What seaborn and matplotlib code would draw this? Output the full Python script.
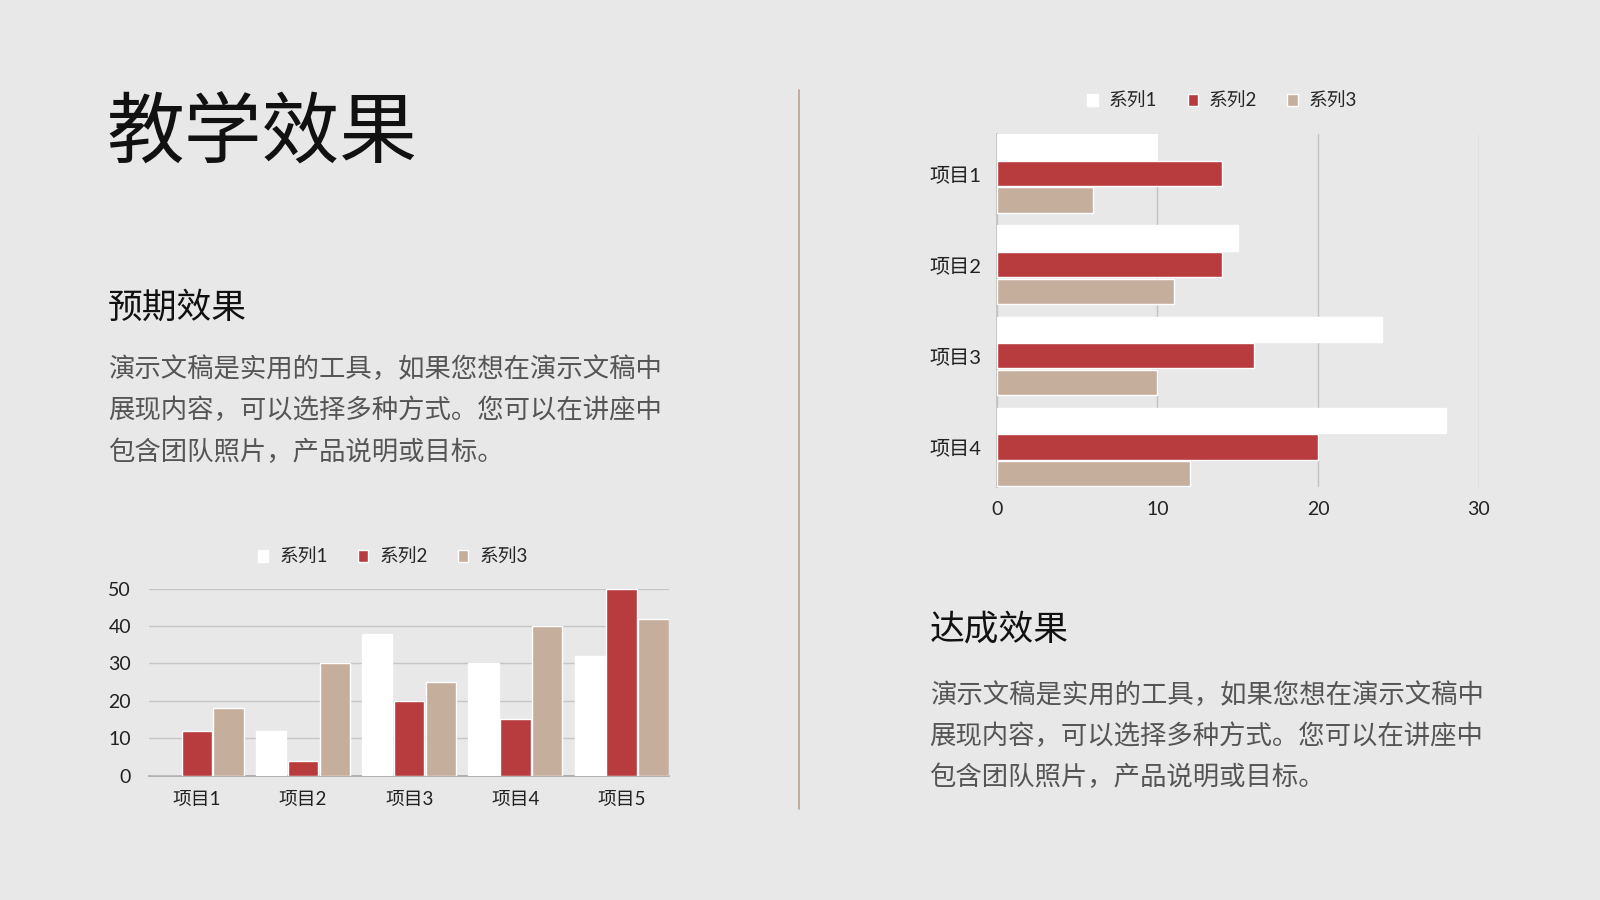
import numpy as np
import pandas as pd
import matplotlib
matplotlib.use("Agg")
import matplotlib.pyplot as plt
from matplotlib.lines import Line2D
import seaborn as sns

# -------------------------------
# DATA
# -------------------------------
series = ["系列1", "系列2", "系列3"]

col_items = ["项目1", "项目2", "项目3", "项目4", "项目5"]
col_s1 = [0, 12, 38, 30, 32]
col_s2 = [12, 4, 20, 15, 50]
col_s3 = [18, 30, 25, 40, 42]

bar_items = ["项目1", "项目2", "项目3", "项目4"]
bar_s1 = [10, 15, 24, 28]
bar_s2 = [14, 14, 16, 20]
bar_s3 = [6, 11, 10, 12]

title = "教学效果"
head_left = "预期效果"
head_right = "达成效果"
body_lines = [
    "演示文稿是实用的工具，如果您想在演示文稿中",
    "展现内容，可以选择多种方式。您可以在讲座中",
    "包含团队照片，产品说明或目标。",
]

BG = "#e8e8e8"
palette = ["#ffffff", "#b83c3e", "#c5ae9c"]
W, H = 1568, 882  # reference size, used for placing things


def fx(px):
    return px / W


def fy(py):
    return 1 - py / H


def long_form(items, s1, s2, s3):
    df = pd.DataFrame({"item": items, series[0]: s1, series[1]: s2, series[2]: s3})
    return df.melt(id_vars="item", var_name="series", value_name="value")


sns.set_theme(style="white")
plt.rcParams["font.family"] = ["Lato", "Noto Sans CJK SC", "DejaVu Sans"]
plt.rcParams["axes.unicode_minus"] = False

fig = plt.figure(figsize=(16, 9), dpi=100)
fig.patch.set_facecolor(BG)

# -------------------------------
# TEXTS
# -------------------------------
cjk = ["Noto Sans CJK SC"]
fig.text(fx(104), fy(133), title, fontsize=56, color="#111111",
         va="center", ha="left", family=cjk)
fig.text(fx(106), fy(302), head_left, fontsize=25, color="#111111",
         va="center", ha="left", family=cjk)
fig.text(fx(911), fy(617), head_right, fontsize=25, color="#111111",
         va="center", ha="left", family=cjk)
for i, line in enumerate(body_lines):
    fig.text(fx(106), fy(362 + 40.5 * i), line, fontsize=19, color="#555555",
             va="center", ha="left", family=cjk)
    fig.text(fx(911), fy(682 + 40 * i), line, fontsize=19, color="#555555",
             va="center", ha="left", family=cjk)

# divider
fig.add_artist(Line2D([fx(783), fx(783)], [fy(88), fy(793)], color="#bfa89a", lw=1.3))

# -------------------------------
# COLUMN CHART (bottom left)
# -------------------------------
ax1 = fig.add_axes([fx(146), fy(760), fx(656) - fx(146), fy(577) - fy(760)])
ax1.set_facecolor(BG)
sns.barplot(data=long_form(col_items, col_s1, col_s2, col_s3), x="item", y="value",
            hue="series", hue_order=series, palette=palette, width=0.9, gap=0.05,
            saturation=1, ax=ax1, legend=True, zorder=3)
ax1.set_ylim(0, 50)
ax1.set_xlim(-0.45, 4.45)
ax1.set_yticks(np.arange(0, 51, 10))
ax1.yaxis.grid(True, color="#c6c6c6", lw=1, zorder=0)
ax1.set_axisbelow(True)
for s in ["top", "right", "left"]:
    ax1.spines[s].set_visible(False)
ax1.spines["bottom"].set_color("#a8a8a8")
ax1.set_xlabel("")
ax1.set_ylabel("")
ax1.tick_params(axis="y", length=0, pad=13, labelsize=14, labelcolor="#222222")
ax1.tick_params(axis="x", length=0, pad=11, labelsize=13.5, labelcolor="#222222")
h1, l1 = ax1.get_legend_handles_labels()
ax1.legend(h1, l1, loc="center", bbox_to_anchor=(fx(385), fy(546)),
           bbox_transform=fig.transFigure, ncol=3, frameon=False, fontsize=13.5,
           handlelength=0.55, handleheight=0.55, handletextpad=0.6, columnspacing=1.6)

# -------------------------------
# BAR CHART (top right)
# -------------------------------
ax2 = fig.add_axes([fx(977), fy(477), fx(1449) - fx(977), fy(131) - fy(477)])
ax2.set_facecolor(BG)
sns.barplot(data=long_form(bar_items, bar_s1, bar_s2, bar_s3), y="item", x="value",
            hue="series", hue_order=series, palette=palette, width=0.873, gap=0.05,
            saturation=1, orient="h", ax=ax2, legend=True, zorder=3)
ax2.set_xlim(0, 30)
ax2.set_ylim(3.4365, -0.4365)
ax2.set_xticks([0, 10, 20, 30])
ax2.xaxis.grid(True, color="#c2c2c2", lw=1, zorder=0)
ax2.set_axisbelow(True)
for s in ["top", "right", "bottom"]:
    ax2.spines[s].set_visible(False)
ax2.spines["left"].set_color("#c2c2c2")
ax2.set_xlabel("")
ax2.set_ylabel("")
ax2.tick_params(axis="y", length=0, pad=11, labelsize=14.5, labelcolor="#222222")
ax2.tick_params(axis="x", length=0, pad=10.5, labelsize=14, labelcolor="#222222")
h2, l2 = ax2.get_legend_handles_labels()
ax2.legend(h2, l2, loc="center", bbox_to_anchor=(fx(1198), fy(99)),
           bbox_transform=fig.transFigure, ncol=3, frameon=False, fontsize=13.5,
           handlelength=0.55, handleheight=0.55, handletextpad=0.6, columnspacing=1.6)

plt.savefig("out.png", dpi=100, facecolor=BG)
